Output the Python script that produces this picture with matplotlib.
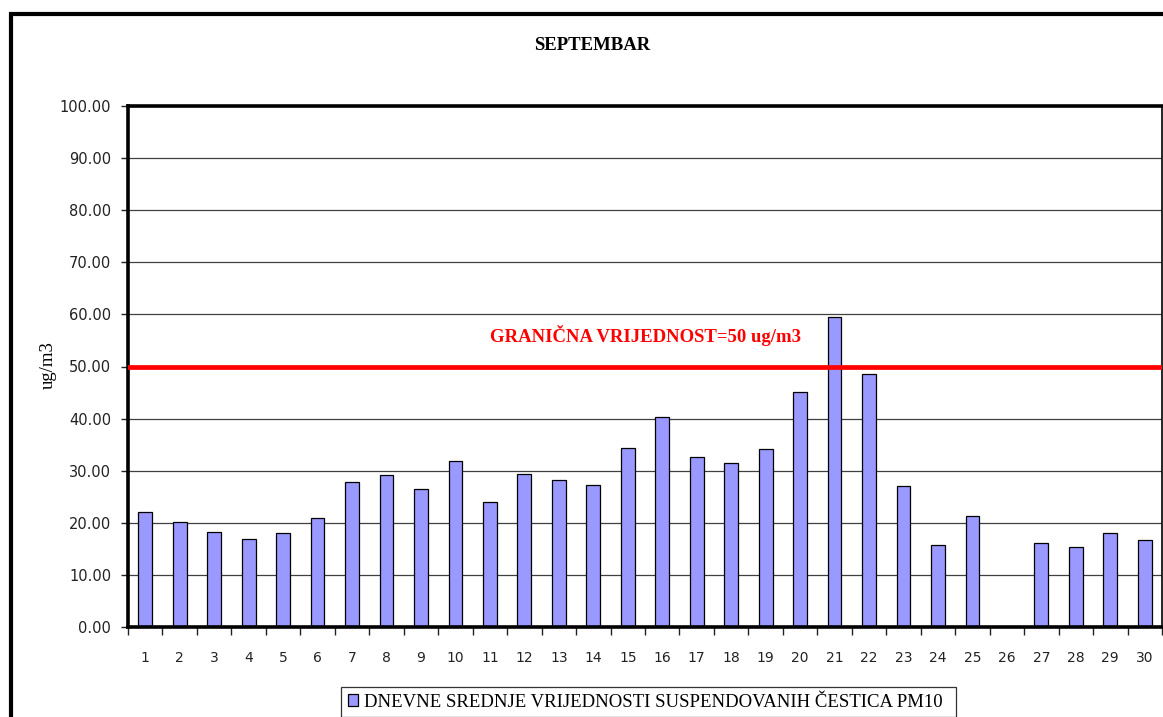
import numpy as np
import matplotlib
matplotlib.use("Agg")
import matplotlib.pyplot as plt
from matplotlib.patches import Rectangle
from matplotlib.ticker import FormatStrFormatter

days = [str(d) for d in range(1, 31)]
pm10 = [22.0, 20.1, 18.3, 16.9, 18.0, 21.0, 27.8, 29.1, 26.4, 31.9,
        23.9, 29.3, 28.2, 27.3, 34.4, 40.3, 32.7, 31.5, 34.1, 45.1,
        59.5, 48.6, 27.0, 15.7, 21.3, np.nan, 16.2, 15.3, 18.0, 16.7]
limit_value = 50
yticks = list(range(0, 101, 10))

title = "SEPTEMBAR"
ylabel = "ug/m3"
limit_label = "GRANIČNA VRIJEDNOST=50 ug/m3"
series_label = "DNEVNE SREDNJE VRIJEDNOSTI SUSPENDOVANIH ČESTICA PM10"

W, H = 1163, 717
serif = "Liberation Serif"
sans = "DejaVu Sans"

fig = plt.figure(figsize=(W / 100, H / 100), dpi=100)
fig.patch.set_facecolor("white")

# outer chart border (right and bottom run off the picture)
fig.patches.append(Rectangle((10.5 / W, -0.05), 1.2, 1 - 13.5 / H + 0.05,
                             transform=fig.transFigure, fill=False,
                             edgecolor="black", linewidth=3, zorder=0))

ax = fig.add_axes([128 / W, 1 - 627 / H, (1162 - 128) / W, (627 - 106) / H])

x = np.arange(len(days))
ax.bar(x, pm10, width=0.4, color="#9999FF", edgecolor="black",
       linewidth=0.9, zorder=3, label=series_label)
ax.axhline(limit_value, color="#FF0000", linewidth=3.4, zorder=4)
ax.text(0.5, 56, limit_label, transform=ax.get_yaxis_transform(),
        ha="center", va="center", color="#FF0000", fontsize=13.5,
        fontweight="bold", family=serif, zorder=5)

ax.set_xlim(-0.5, len(days) - 0.5)
ax.set_ylim(0, 100)
ax.set_yticks(yticks)
ax.yaxis.set_major_formatter(FormatStrFormatter("%.2f"))
ax.yaxis.grid(True, color="#404040", linewidth=0.9, zorder=1)
ax.set_axisbelow(True)

ax.set_xticks(x)
ax.set_xticklabels(days)
ax.set_xticks(np.arange(-0.5, len(days)), minor=True)
ax.tick_params(axis="x", which="major", length=0, pad=17, labelsize=10,
               colors="#222222")
ax.tick_params(axis="x", which="minor", length=6, width=1, direction="out",
               color="#222222")
ax.tick_params(axis="y", length=5, width=1, pad=7, labelsize=10.5,
               colors="#222222")
for lab in ax.get_xticklabels() + ax.get_yticklabels():
    lab.set_family(sans)

for side in ["left", "top", "bottom"]:
    ax.spines[side].set_linewidth(2.6)
    ax.spines[side].set_color("black")
ax.spines["right"].set_linewidth(1.2)
ax.spines["bottom"].set_zorder(6)

fig.text(592.5 / W, 1 - 45 / H, title, ha="center", va="center",
         fontsize=13.5, fontweight="bold", family=serif)
fig.text(48 / W, 1 - 365 / H, ylabel, ha="center", va="center",
         rotation=90, fontsize=13.5, family=serif)

leg_top = 1 - 687 / H
leg = fig.legend(loc="upper left",
                 bbox_to_anchor=(341 / W, leg_top - 0.1, (956 - 341) / W, 0.1),
                 mode="expand", borderaxespad=0, fancybox=False,
                 frameon=True, handlelength=0.55, handleheight=0.55,
                 handletextpad=0.3, borderpad=0.35,
                 prop={"family": serif, "size": 13.5})
leg.get_frame().set_edgecolor("black")
leg.get_frame().set_linewidth(0.9)

fig.savefig("out.png", dpi=100)
